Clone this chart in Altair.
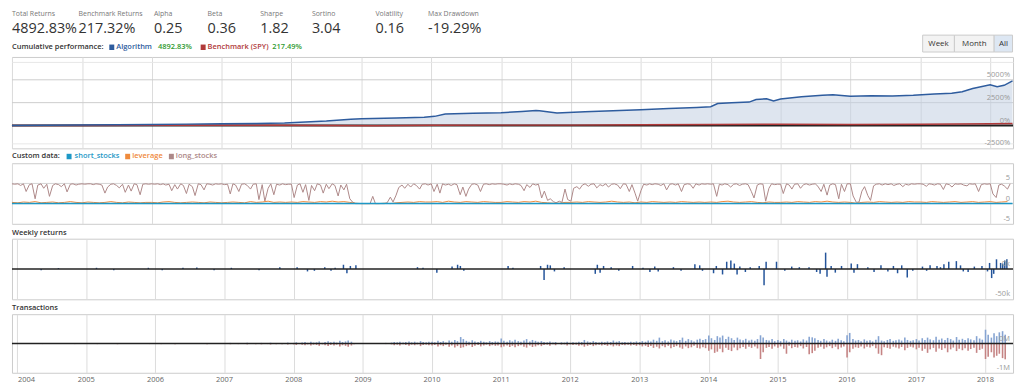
import altair as alt
import pandas as pd

FONT = "Open Sans"
W = 1008

# ---------------- header statistics ----------------
stat_names = ["Total Returns", "Benchmark Returns", "Alpha", "Beta", "Sharpe", "Sortino", "Volatility", "Max Drawdown"]
stat_values = ["4892.83%", "217.32%", "0.25", "0.36", "1.82", "3.04", "0.16", "-19.29%"]
stat_x = [0, 67, 143, 197, 250, 302, 366, 419]

# ---------------- cumulative performance (%) ----------------
cum_years = [2004.0, 2004.5, 2005.0, 2005.5, 2006.0, 2006.5, 2007.0, 2007.5, 2007.9, 2008.2,
             2008.5, 2008.75, 2008.85, 2009.0, 2009.5, 2009.9, 2010.05, 2010.2, 2010.6, 2011.0,
             2011.3, 2011.5, 2011.55, 2011.8, 2012.2, 2012.6, 2013.0, 2013.4, 2013.8, 2014.0,
             2014.1, 2014.3, 2014.55, 2014.65, 2014.8, 2014.9, 2015.0, 2015.3, 2015.6, 2015.75,
             2016.0, 2016.3, 2016.6, 2016.9, 2017.2, 2017.45, 2017.6, 2017.75, 2018.0, 2018.1,
             2018.2, 2018.32]
cum_algo = [0, 25, 55, 85, 115, 150, 185, 230, 280, 380,
            480, 620, 680, 740, 820, 900, 1000, 1250, 1330, 1400,
            1520, 1630, 1620, 1380, 1500, 1620, 1720, 1850, 1980, 2060,
            2400, 2490, 2560, 2850, 2930, 2680, 2900, 3150, 3300, 3370,
            3200, 3250, 3220, 3300, 3440, 3520, 3700, 4050, 4450, 4250,
            4400, 4893]
bench_years = [2004.0, 2005.0, 2006.0, 2007.0, 2007.8, 2008.5, 2009.2, 2010.0, 2011.0, 2012.0,
               2013.0, 2014.0, 2015.0, 2016.0, 2017.0, 2018.0, 2018.32]
bench_vals = [0, 10, 15, 30, 35, 10, -30, 15, 40, 40, 70, 110, 130, 110, 140, 190, 217]
p1_minor_levels = [-2000, -1500, -1000, -500, 500, 1000, 1500, 2000, 3000, 3500, 4000, 4500,
                   5500, 6000, 6500, 7000]
p1_major_levels = [2500, 5000]
p1_tick_vals = [-2500, 0, 2500, 5000]
p1_tick_labs = ["-2500%", "0%", "2500%", "5000%"]

# ---------------- custom data (semi-monthly from 2004-01) ----------------
long_stocks = (
    [4.9, 4.8, 4.9, 4.5, 4.9, 3.0, 4.7, 4.9, 1.2, 4.6, 4.9, 3.8, 4.8, 1.8, 4.5, 4.9, 4.7, 4.2, 4.9, 2.9, 4.8, 4.9, 4.6, 4.8]
    + [4.9, 4.8, 4.9, 4.9, 4.7, 4.9, 4.8, 4.6, 2.6, 4.1, 4.8, 4.9, 4.5, 3.9, 4.8, 2.8, 4.6, 3.1, 4.9, 4.7, 2.2, 4.8, 4.9, 4.8]
    + [4.9, 4.8, 4.9, 4.7, 4.9, 4.6, 4.8, 3.2, 4.7, 3.6, 4.9, 4.5, 2.5, 4.8, 4.2, 2.0, 4.9, 4.7, 3.4, 4.9, 4.8, 4.6, 4.9, 4.8]
    + [4.9, 4.7, 4.8, 2.4, 4.9, 4.6, 3.0, 4.8, 4.9, 4.5, 3.6, 4.8, 4.9, 1.0, 4.7, 0.6, 3.8, 4.9, 2.2, 4.8, 4.6, 4.9, 4.7, 4.8]
    + [4.8, 1.5, 4.6, 4.9, 2.8, 4.7, 0.8, 4.5, 3.2, 4.9, 4.6, 2.6, 4.8, 3.7, 4.9, 4.5, 1.9, 4.6, 3.4, 4.8, 1.2, 0.4, 0.0, 0.0]
    + [0.0, 0.0, 0.0, 0.0, 1.8, 0.0, 0.0, 0.0, 0.0, 0.2, 1.6, 0.4, 2.1, 4.0, 4.6, 3.8, 4.8, 4.1, 4.9, 4.5, 3.6, 4.8, 4.9, 4.6]
    + [4.9, 3.0, 4.8, 2.6, 4.9, 4.6, 4.8, 4.5, 4.9, 4.7, 2.2, 4.1, 1.8, 3.6, 4.8, 4.9, 4.6, 3.0, 4.8, 4.9, 4.7, 4.9, 4.8, 4.9]
    + [4.9, 4.8, 4.6, 4.9, 4.7, 4.9, 4.8, 4.5, 3.2, 4.7, 4.0, 4.9, 4.6, 4.8, 1.4, 3.1, 0.8, 1.2, 0.5, 0.2, 0.6, 0.3, 3.6, 1.0]
    + [0.6, 3.8, 4.2, 3.6, 4.6, 4.9, 4.3, 4.8, 4.9, 3.9, 4.7, 4.4, 4.9, 4.1, 4.8, 4.9, 4.6, 3.7, 4.9, 4.8, 3.0, 4.7, 2.6, 0.6]
    + [3.2, 4.8, 4.6, 4.9, 4.7, 4.9, 4.8, 4.5, 4.9, 3.4, 4.8, 4.9, 4.6, 4.9, 3.0, 4.7, 4.9, 4.8, 3.8, 4.9, 4.6, 4.9, 4.8, 4.9]
    + [4.8, 4.9, 1.8, 4.8, 4.6, 4.9, 4.7, 4.1, 4.8, 4.9, 4.5, 4.8, 4.9, 4.7, 3.0, 1.4, 4.6, 4.9, 4.8, 0.6, 3.8, 4.9, 4.7, 4.8]
    + [4.8, 2.5, 4.9, 4.6, 3.6, 4.8, 4.9, 3.8, 4.7, 4.9, 4.6, 4.8, 4.9, 4.3, 3.0, 4.8, 2.1, 4.6, 4.9, 4.7, 1.2, 4.8, 3.0, 4.9]
    + [4.9, 1.9, 0.3, 0.4, 3.1, 4.2, 2.0, 0.8, 4.4, 4.8, 4.9, 4.6, 4.9, 4.7, 4.9, 4.5, 4.8, 4.9, 4.2, 4.8, 4.6, 4.9, 4.8, 4.9]
    + [4.9, 4.8, 4.3, 4.9, 4.8, 4.6, 4.9, 4.8, 3.5, 4.9, 4.7, 4.1, 4.9, 4.8, 4.9, 4.6, 4.4, 4.9, 4.8, 4.9, 3.0, 4.7, 4.9, 4.8]
    + [4.9, 2.4, 1.5, 4.6, 4.8, 4.4, 3.6, 4.9]
)
# monthly from 2004-01
leverage = (
    [0.3, 0.2, 0.4, 0.3, 0.5, 0.2, 0.3, 0.4, 0.2, 0.3, 0.5, 0.3]
    + [0.2, 0.4, 0.3, 0.2, 0.3, 0.5, 0.3, 0.2, 0.4, 0.3, 0.2, 0.3]
    + [0.3, 0.2, 0.4, 0.5, 0.3, 0.2, 0.3, 0.4, 0.3, 0.2, 0.4, 0.3]
    + [0.2, 0.3, 0.4, 0.3, 0.2, 0.5, 0.3, 0.4, 0.6, 0.3, 0.4, 0.3]
    + [0.4, 0.3, 0.5, 0.4, 0.3, 0.5, 0.4, 0.6, 0.4, 0.5, 0.3, 0.1]
    + [0.0, 0.0, 0.0, 0.0, 0.1, 0.0, 0.2, 0.3, 0.4, 0.3, 0.5, 0.4]
    + [0.4, 0.5, 0.3, 0.6, 0.4, 0.3, 0.5, 0.4, 0.3, 0.5, 0.4, 0.3]
    + [0.3, 0.5, 0.4, 0.3, 0.5, 0.4, 0.6, 0.3, 0.2, 0.1, 0.1, 0.3]
    + [0.3, 0.4, 0.3, 0.5, 0.4, 0.3, 0.4, 0.6, 0.4, 0.3, 0.4, 0.2]
    + [0.4, 0.3, 0.5, 0.4, 0.3, 0.4, 0.3, 0.5, 0.4, 0.3, 0.4, 0.3]
    + [0.4, 0.3, 0.5, 0.6, 0.4, 0.3, 0.4, 0.5, 0.3, 0.2, 0.4, 0.3]
    + [0.3, 0.4, 0.3, 0.5, 0.4, 0.3, 0.5, 0.4, 0.6, 0.4, 0.3, 0.4]
    + [0.3, 0.1, 0.3, 0.4, 0.3, 0.5, 0.4, 0.3, 0.4, 0.3, 0.5, 0.4]
    + [0.4, 0.3, 0.5, 0.4, 0.3, 0.4, 0.5, 0.3, 0.4, 0.5, 0.3, 0.4]
    + [0.5, 0.3, 0.4, 0.5]
)
short_years = [2004.0, 2018.32]
short_stocks = [0.0, 0.0]
p2_grid_levels = [0, 5]
p2_tick_vals = [-5, 0, 5]
p2_tick_labs = ["-5", "0", "5"]

# ---------------- weekly returns ($k) ----------------
wr_years = [2004.35, 2004.6, 2005.15, 2005.4, 2005.9, 2006.1, 2006.4, 2006.6, 2006.85, 2007.1, 2007.5, 2007.8,
            2008.05, 2008.2, 2008.3, 2008.45, 2008.54, 2008.6, 2008.72, 2008.77, 2008.82, 2008.9,
            2009.79, 2009.87, 2010.07, 2010.29, 2010.37, 2010.41, 2010.46, 2011.1, 2011.17,
            2011.57, 2011.62, 2011.67, 2011.71, 2011.77, 2011.91,
            2012.36, 2012.39, 2012.43, 2012.48, 2012.59, 2012.7, 2012.9,
            2013.05, 2013.15, 2013.22, 2013.27, 2013.49, 2013.6, 2013.8, 2013.87, 2013.91,
            2014.07, 2014.11, 2014.2, 2014.26, 2014.32, 2014.37, 2014.41, 2014.45, 2014.53, 2014.6, 2014.73, 2014.8, 2014.83, 2014.98,
            2015.1, 2015.2, 2015.31, 2015.45, 2015.56, 2015.61, 2015.69, 2015.71, 2015.77, 2015.83, 2015.92,
            2016.06, 2016.1, 2016.15, 2016.3, 2016.39, 2016.49, 2016.59, 2016.67, 2016.73, 2016.79, 2016.87, 2016.95,
            2017.09, 2017.15, 2017.2, 2017.3, 2017.35, 2017.4, 2017.47, 2017.58, 2017.64, 2017.68, 2017.75, 2017.84, 2017.95,
            2018.03, 2018.06, 2018.09, 2018.12, 2018.16, 2018.22, 2018.25, 2018.28, 2018.31]
wr_vals = [-2, 1.5, 2, -2, 2, -2, 2, 2.5, -2, 2, -2, 3,
           3, -4, -3, 3, -3, 2, 7, -7, 5, 6,
           3, 2, -6, 4, 7, 5, -3, 5, 2,
           5, -18, 7, 6, -4, 3,
           -8, 7, -6, 5, 3, -3, 5,
           2, -5, 4, -4, 3, -3, 8, 6, -3,
           -7, 5, -9, 12, 14, 9, -9, 4, -5, 3, 5, -27, 12, 12,
           -3, 4, 3, 3, -5, -8, 27, -13, 5, -6, 5,
           9, -6, 8, 3, -5, 6, -4, 5, -7, 6, -14, -3,
           4, -3, 6, 5, 3, 8, 12, 13, 6, -4, -5, 4, 5,
           -4, 10, -15, -8, 16, 10, 9, 14, 16]
p3_tick_vals = [-50, 0]
p3_tick_labs = ["-50k", "0k"]

# ---------------- transactions ($k, semi-monthly from 2004-01) ----------------
buys = (
    [8, 0, 12, 5, 0, 15, 0, 8, 4, 0, 12, 0, 8, 0, 15, 4, 0, 8, 0, 12, 4, 0, 8, 4]
    + [4, 12, 0, 8, 15, 0, 4, 12, 0, 8, 0, 15, 4, 0, 12, 8, 0, 4, 15, 0, 8, 4, 12, 0]
    + [8, 0, 15, 4, 12, 0, 8, 20, 0, 4, 12, 0, 15, 8, 0, 12, 4, 0, 20, 8, 0, 12, 4, 8]
    + [0, 12, 20, 0, 8, 15, 4, 0, 25, 12, 0, 15, 8, 20, 0, 12, 25, 4, 15, 0, 20, 8, 30, 12]
    + [20, 40, 10, 30, 50, 20, 60, 30, 40, 70, 20, 50, 80, 40, 60, 30, 90, 50, 70, 100, 60, 20, 0, 0]
    + [0, 0, 0, 10, 0, 0, 0, 5, 20, 10, 30, 50, 40, 60, 30, 50, 70, 40, 60, 30, 80, 50, 40, 60]
    + [60, 40, 90, 50, 80, 30, 100, 60, 120, 80, 220, 150, 90, 60, 110, 70, 50, 90, 60, 40, 80, 50, 70, 60]
    + [170, 90, 60, 110, 70, 130, 80, 60, 100, 150, 70, 120, 90, 60, 80, 50, 40, 70, 30, 50, 20, 40, 30, 60]
    + [20, 40, 30, 60, 50, 120, 70, 40, 80, 50, 30, 60, 40, 70, 50, 100, 60, 80, 40, 50, 30, 60, 40, 70]
    + [50, 80, 60, 100, 70, 130, 90, 200, 80, 110, 70, 140, 100, 80, 120, 200, 90, 150, 110, 70, 130, 160, 120, 150]
    + [270, 180, 120, 250, 200, 270, 150, 230, 180, 120, 200, 140, 110, 160, 100, 130, 90, 150, 280, 200, 120, 100, 150, 80]
    + [120, 80, 150, 100, 60, 130, 90, 110, 70, 140, 100, 230, 210, 180, 120, 90, 150, 100, 70, 130, 90, 160, 110, 80]
    + [280, 360, 150, 100, 120, 80, 140, 90, 110, 70, 130, 250, 100, 80, 120, 150, 90, 110, 140, 100, 200, 120, 90, 110]
    + [150, 100, 180, 120, 200, 140, 110, 230, 130, 170, 120, 190, 150, 100, 220, 130, 160, 120, 180, 140, 110, 250, 170, 130]
    + [470, 300, 200, 350, 250, 380, 420, 300]
)
sells = (
    [-12, -8, -20, -6, -15, -10, -18, -8, -12, -20, -6, -15, -10, -22, -8, -12, -18, -6, -15, -10, -20, -8, -12, -18]
    + [-10, -18, -8, -15, -22, -6, -12, -20, -8, -15, -10, -25, -12, -8, -18, -15, -6, -12, -22, -8, -15, -10, -20, -12]
    + [-15, -8, -22, -12, -18, -6, -15, -25, -10, -12, -20, -8, -18, -15, -6, -22, -12, -8, -25, -15, -10, -18, -12, -15]
    + [-12, -20, -25, -8, -15, -22, -12, -10, -30, -18, -8, -25, -15, -28, -10, -20, -35, -12, -25, -8, -30, -15, -35, -20]
    + [-30, -50, -20, -40, -60, -30, -70, -40, -50, -80, -30, -60, -90, -50, -70, -40, -100, -60, -80, -110, -70, -30, 0, 0]
    + [0, 0, 0, -10, 0, 0, 0, -10, -20, -10, -30, -60, -40, -70, -30, -50, -80, -40, -60, -30, -90, -50, -40, -60]
    + [-70, -50, -100, -60, -90, -40, -110, -70, -140, -90, -150, -130, -90, -60, -120, -80, -50, -100, -70, -40, -90, -60, -80, -70]
    + [-130, -100, -70, -120, -80, -130, -90, -60, -110, -140, -70, -120, -100, -60, -90, -50, -40, -80, -30, -60, -20, -40, -30, -70]
    + [-30, -50, -40, -80, -60, -110, -80, -50, -90, -60, -40, -70, -50, -80, -60, -100, -70, -90, -50, -60, -40, -70, -50, -80]
    + [-60, -100, -80, -120, -90, -150, -110, -170, -90, -130, -80, -160, -120, -90, -140, -180, -100, -160, -130, -80, -150, -170, -130, -160]
    + [-250, -200, -320, -280, -180, -300, -150, -220, -260, -140, -230, -160, -120, -180, -110, -150, -100, -170, -530, -300, -150, -120, -180, -100]
    + [-150, -100, -180, -350, -80, -160, -120, -140, -90, -170, -120, -370, -330, -250, -150, -110, -180, -130, -90, -160, -110, -200, -140, -100]
    + [-480, -300, -180, -130, -150, -100, -170, -110, -140, -90, -160, -350, -400, -130, -150, -180, -110, -140, -170, -120, -230, -150, -110, -140]
    + [-200, -150, -250, -180, -320, -200, -150, -280, -170, -220, -160, -300, -200, -140, -260, -180, -230, -160, -250, -190, -150, -320, -220, -180]
    + [-530, -450, -300, -480, -420, -350, -500, -540]
)
p4_tick_vals = [-1000, 0]
p4_tick_labs = ["-1M", "0M"]
year_labels = [str(y) for y in range(2004, 2019)]

# ---------------- helpers ----------------
T0 = pd.Timestamp("2004-01-01")


def yr2date(y):
    return T0 + pd.to_timedelta((y - 2004.0) * 365.25, unit="D")


X_DOMAIN = [alt.DateTime(year=2004, month=1, date=1), alt.DateTime(year=2018, month=4, date=30)]
YEAR_TICKS = [alt.DateTime(year=y, month=1, date=1) for y in range(2004, 2019)]
DUMMY = pd.DataFrame({"k": [0]})
X_AXIS = alt.Axis(values=YEAR_TICKS, grid=True, gridColor="#dcdcdc", domain=False, ticks=False,
                  labels=False, title=None)


def xenc():
    return alt.X("date:T", scale=alt.Scale(domain=X_DOMAIN), axis=X_AXIS)


def yaxis(values=None, grid_color="#e6e6e6"):
    if values:
        return alt.Axis(orient="right", values=values, domain=False, ticks=False, labels=False,
                        title=None, grid=True, gridColor=grid_color)
    return alt.Axis(orient="right", domain=False, ticks=False, labels=False, title=None, grid=False)


def txt(s, x, y, color="#333333", size=7.5, weight="normal", align="left", baseline="middle"):
    return alt.Chart(DUMMY).mark_text(text=s, align=align, baseline=baseline, fontSize=size,
                                      fontWeight=weight, color=color, font=FONT).encode(
        x=alt.value(x), y=alt.value(y))


def box(x1, x2, y1, y2, fill, stroke="#cccccc"):
    return alt.Chart(DUMMY).mark_rect(fill=fill, stroke=stroke, strokeWidth=1).encode(
        x=alt.value(x1), x2=alt.value(x2), y=alt.value(y1), y2=alt.value(y2))


def swatch(x, y, color):
    return alt.Chart(DUMMY).mark_rect(fill=color).encode(
        x=alt.value(x), x2=alt.value(x + 5), y=alt.value(y - 2.5), y2=alt.value(y + 3))


def ylabels(vals, labs, sc, ax):
    df = pd.DataFrame({"v": vals, "lab": labs})
    return alt.Chart(df).mark_text(align="right", baseline="bottom", dy=-1, fontSize=7.5,
                                   color="#999999", font=FONT).encode(
        x=alt.value(W - 3), y=alt.Y("v:Q", scale=sc, axis=ax), text="lab:N")


def hlines(levels, sc, ax, color):
    df = pd.DataFrame({"v": levels})
    return alt.Chart(df).mark_rule(color=color, strokeWidth=1).encode(
        y=alt.Y("v:Q", scale=sc, axis=ax))


# ---------------- header ----------------
hdr_layers = []
for name, val, sx in zip(stat_names, stat_values, stat_x):
    hdr_layers.append(txt(name, sx, 6, color="#777777", size=7, baseline="alphabetic"))
    hdr_layers.append(txt(val, sx, 23, color="#333333", size=14.5, baseline="alphabetic"))
header = alt.layer(*hdr_layers).properties(width=W, height=32, view=alt.ViewBackground(stroke="transparent"))

# ---------------- panel 1: cumulative ----------------
cum_df = pd.DataFrame({"date": [yr2date(y) for y in cum_years], "algo": cum_algo})
bench_df = pd.DataFrame({"date": [yr2date(y) for y in bench_years], "algo": bench_vals})
S1 = alt.Scale(domain=[-2500, 7500], nice=False, zero=False)
A1 = yaxis(p1_minor_levels, "#e8e8e8")
Y1 = alt.Y("algo:Q", scale=S1, axis=A1)

p1 = alt.layer(
    hlines(p1_major_levels, S1, A1, "#cdcdcd"),
    alt.Chart(cum_df).mark_area(color="#c3cfe1", opacity=0.55).encode(x=xenc(), y=Y1, y2=alt.datum(0)),
    alt.Chart(DUMMY).mark_rule(color="#222222", strokeWidth=2).encode(y=alt.datum(0)),
    alt.Chart(bench_df).mark_line(color="#b13a3a", strokeWidth=1.5).encode(x=xenc(), y=Y1),
    alt.Chart(cum_df).mark_line(color="#2e5c9e", strokeWidth=1.5).encode(x=xenc(), y=Y1),
    ylabels(p1_tick_vals, p1_tick_labs, S1, A1),
    txt("Cumulative performance:", 0, -10, color="#333333", weight=600),
    swatch(98, -10, "#2e5c9e"),
    txt("Algorithm", 105, -10, color="#2e5c9e", weight=600),
    txt("4892.83%", 147, -10, color="#2f9a2f", weight=600),
    swatch(190, -10, "#b13a3a"),
    txt("Benchmark (SPY)", 197, -10, color="#b13a3a", weight=600),
    txt("217.49%", 262, -10, color="#2f9a2f", weight=600),
    box(917, 949, -22, -5, "#f3f3f3"),
    box(949, 989, -22, -5, "#f3f3f3"),
    box(989, 1007.5, -22, -5, "#dde7f3"),
    txt("Week", 933, -13, color="#333333", size=8, align="center"),
    txt("Month", 969, -13, color="#333333", size=8, align="center"),
    txt("All", 998.5, -13, color="#333333", size=8, align="center"),
).properties(width=W, height=92)

# ---------------- panel 2: custom data ----------------
ls_df = pd.DataFrame({"date": pd.date_range("2004-01-01", periods=len(long_stocks), freq="SMS"), "v": long_stocks})
lev_df = pd.DataFrame({"date": pd.date_range("2004-01-01", periods=len(leverage), freq="MS"), "v": leverage})
ss_df = pd.DataFrame({"date": [yr2date(y) for y in short_years], "v": short_stocks})
S2 = alt.Scale(domain=[-5, 10], nice=False, zero=False)
A2 = yaxis()
Y2 = alt.Y("v:Q", scale=S2, axis=A2)

p2 = alt.layer(
    hlines(p2_grid_levels, S2, A2, "#d4d4d4"),
    alt.Chart(ls_df).mark_line(color="#ad8888", strokeWidth=1).encode(x=xenc(), y=Y2),
    alt.Chart(lev_df).mark_line(color="#ef8a3c", strokeWidth=1).encode(x=xenc(), y=Y2),
    alt.Chart(ss_df).mark_line(color="#1d98c6", strokeWidth=1.5).encode(x=xenc(), y=Y2),
    ylabels(p2_tick_vals, p2_tick_labs, S2, A2),
    txt("Custom data:", 0, -7, color="#333333", weight=600),
    swatch(55, -7, "#1d98c6"),
    txt("short_stocks", 63, -7, color="#1d98c6", weight=600),
    swatch(114, -7, "#ef8a3c"),
    txt("leverage", 121, -7, color="#ef8a3c", weight=600),
    swatch(158, -7, "#ad8888"),
    txt("long_stocks", 165, -7, color="#ad8888", weight=600),
).properties(width=W, height=61)

# ---------------- panel 3: weekly returns ----------------
wr_df = pd.DataFrame({"date": [yr2date(y) for y in wr_years], "v": wr_vals})
S3 = alt.Scale(domain=[-50, 50], nice=False, zero=False)
A3 = yaxis()
Y3 = alt.Y("v:Q", scale=S3, axis=A3)
p3 = alt.layer(
    alt.Chart(wr_df).mark_bar(width=1.5, color="#24549a").encode(x=xenc(), y=Y3, y2=alt.datum(0)),
    alt.Chart(DUMMY).mark_rule(color="#222222", strokeWidth=1.5).encode(y=alt.datum(0)),
    ylabels(p3_tick_vals, p3_tick_labs, S3, A3),
    txt("Weekly returns", 0, -6, color="#333333", weight=600),
).properties(width=W, height=61)

# ---------------- panel 4: transactions ----------------
buy_df = pd.DataFrame({"date": pd.date_range("2004-01-01", periods=len(buys), freq="SMS"), "v": buys})
sell_df = pd.DataFrame({"date": pd.date_range("2004-01-01", periods=len(sells), freq="SMS"), "v": sells})
yr_df = pd.DataFrame({"date": [pd.Timestamp(f"{s}-01-01") for s in year_labels], "lab": year_labels})
S4 = alt.Scale(domain=[-1000, 1000], nice=False, zero=False)
A4 = yaxis()
Y4 = alt.Y("v:Q", scale=S4, axis=A4)
H4 = 59
p4 = alt.layer(
    alt.Chart(buy_df).mark_bar(width=1.6, color="#86a4d2").encode(x=xenc(), y=Y4, y2=alt.datum(0)),
    alt.Chart(sell_df).mark_bar(width=1.6, color="#c58484").encode(x=xenc(), y=Y4, y2=alt.datum(0)),
    alt.Chart(DUMMY).mark_rule(color="#222222", strokeWidth=1.5).encode(y=alt.datum(0)),
    ylabels(p4_tick_vals, p4_tick_labs, S4, A4),
    alt.Chart(yr_df.iloc[:1]).mark_text(align="left", baseline="middle", dx=1, fontSize=7.5,
                                        color="#666666", font=FONT).encode(
        x=xenc(), y=alt.value(H4 + 7), text="lab:N"),
    alt.Chart(yr_df.iloc[1:]).mark_text(align="center", baseline="middle", fontSize=7.5,
                                        color="#666666", font=FONT).encode(
        x=xenc(), y=alt.value(H4 + 7), text="lab:N"),
    txt("Transactions", 0, -6, color="#333333", weight=600),
).properties(width=W, height=H4)

chart = alt.vconcat(header, p1, p2, p3, p4, spacing=15, bounds="flush").properties(
    padding={"left": 0, "top": 0, "right": 0, "bottom": 0}
).configure(font=FONT, background="white").configure_view(stroke="#cccccc", strokeWidth=1)

chart.save("out.html", embed_options={"renderer": "svg", "actions": False})
